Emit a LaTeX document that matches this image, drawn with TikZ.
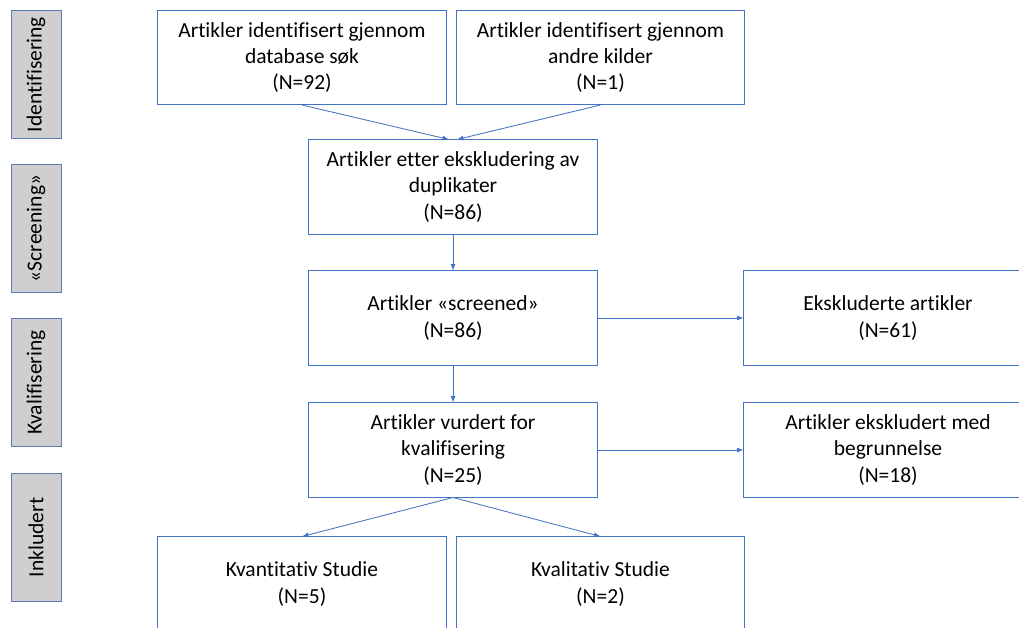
\documentclass[tikz,border=0pt]{standalone}
\usepackage{fontspec}
\setmainfont{Carlito}[Ligatures={NoCommon}]
\definecolor{boksblaa}{HTML}{4472C4}
\definecolor{fasegraa}{HTML}{D0CECE}
\definecolor{fasekant}{HTML}{5B7DB5}
\begin{document}
\begin{tikzpicture}[x=0.025cm, y=-0.025cm,
        every node/.style={font=\fontsize{15.3}{18.8}\selectfont},
        boks/.style={draw=boksblaa, line width=0.7pt, fill=white, align=center,
            minimum width=7.2cm, minimum height=2.35cm, inner sep=0pt},
        fase/.style={draw=fasekant, line width=0.7pt, fill=fasegraa, rotate=90,
            minimum width=3.175cm, minimum height=1.25cm, inner sep=0pt},
        pil/.style={draw=boksblaa, line width=0.6pt, -latex}]
    \useasboundingbox (0,0) rectangle (1019,628);
    \clip (0,0) rectangle (1019,628);

    % faser til venstre
    \foreach \navn/\y/\tekst in {idf/74.5/Identifisering, scr/228.5/«Screening»,
                                 kvl/382.5/Kvalifisering, ink/537.5/Inkludert}
        { \node[fase] (\navn) at (36,\y) {\tekst}; }

    % bokser
    \node[boks] (db)    at (302,57.5)  {Artikler identifisert gjennom\\database søk\\(N=92)};
    \node[boks] (andre) at (600.5,57.5) {Artikler identifisert gjennom\\andre kilder\\(N=1)};
    \node[boks] (dupl)  at (453,187)   {Artikler etter ekskludering av\\duplikater\\(N=86)};
    \node[boks] (scrn)  at (453,318)   {Artikler «screened»\\(N=86)};
    \node[boks] (ekskl) at (888,318)   {Ekskluderte artikler\\(N=61)};
    \node[boks] (vurd)  at (453,450)   {Artikler vurdert for\\kvalifisering\\(N=25)};
    \node[boks] (begr)  at (888,450)   {Artikler ekskludert med\\begrunnelse\\(N=18)};
    \node[boks] (kvant) at (302,584)   {Kvantitativ Studie\\(N=5)};
    \node[boks] (kval)  at (600.5,584) {Kvalitativ Studie\\(N=2)};

    % piler
    \draw[pil] (db.south) -- ([xshift=-0.1cm]dupl.north);
    \draw[pil] (andre.south) -- ([xshift=0.1cm]dupl.north);
    \draw[pil] (dupl) -- (scrn);
    \draw[pil] (scrn) -- (ekskl);
    \draw[pil] (scrn) -- (vurd);
    \draw[pil] (vurd) -- (begr);
    \draw[pil] (vurd.south) -- (kvant.north);
    \draw[pil] (vurd.south) -- (kval.north);
\end{tikzpicture}
\end{document}
